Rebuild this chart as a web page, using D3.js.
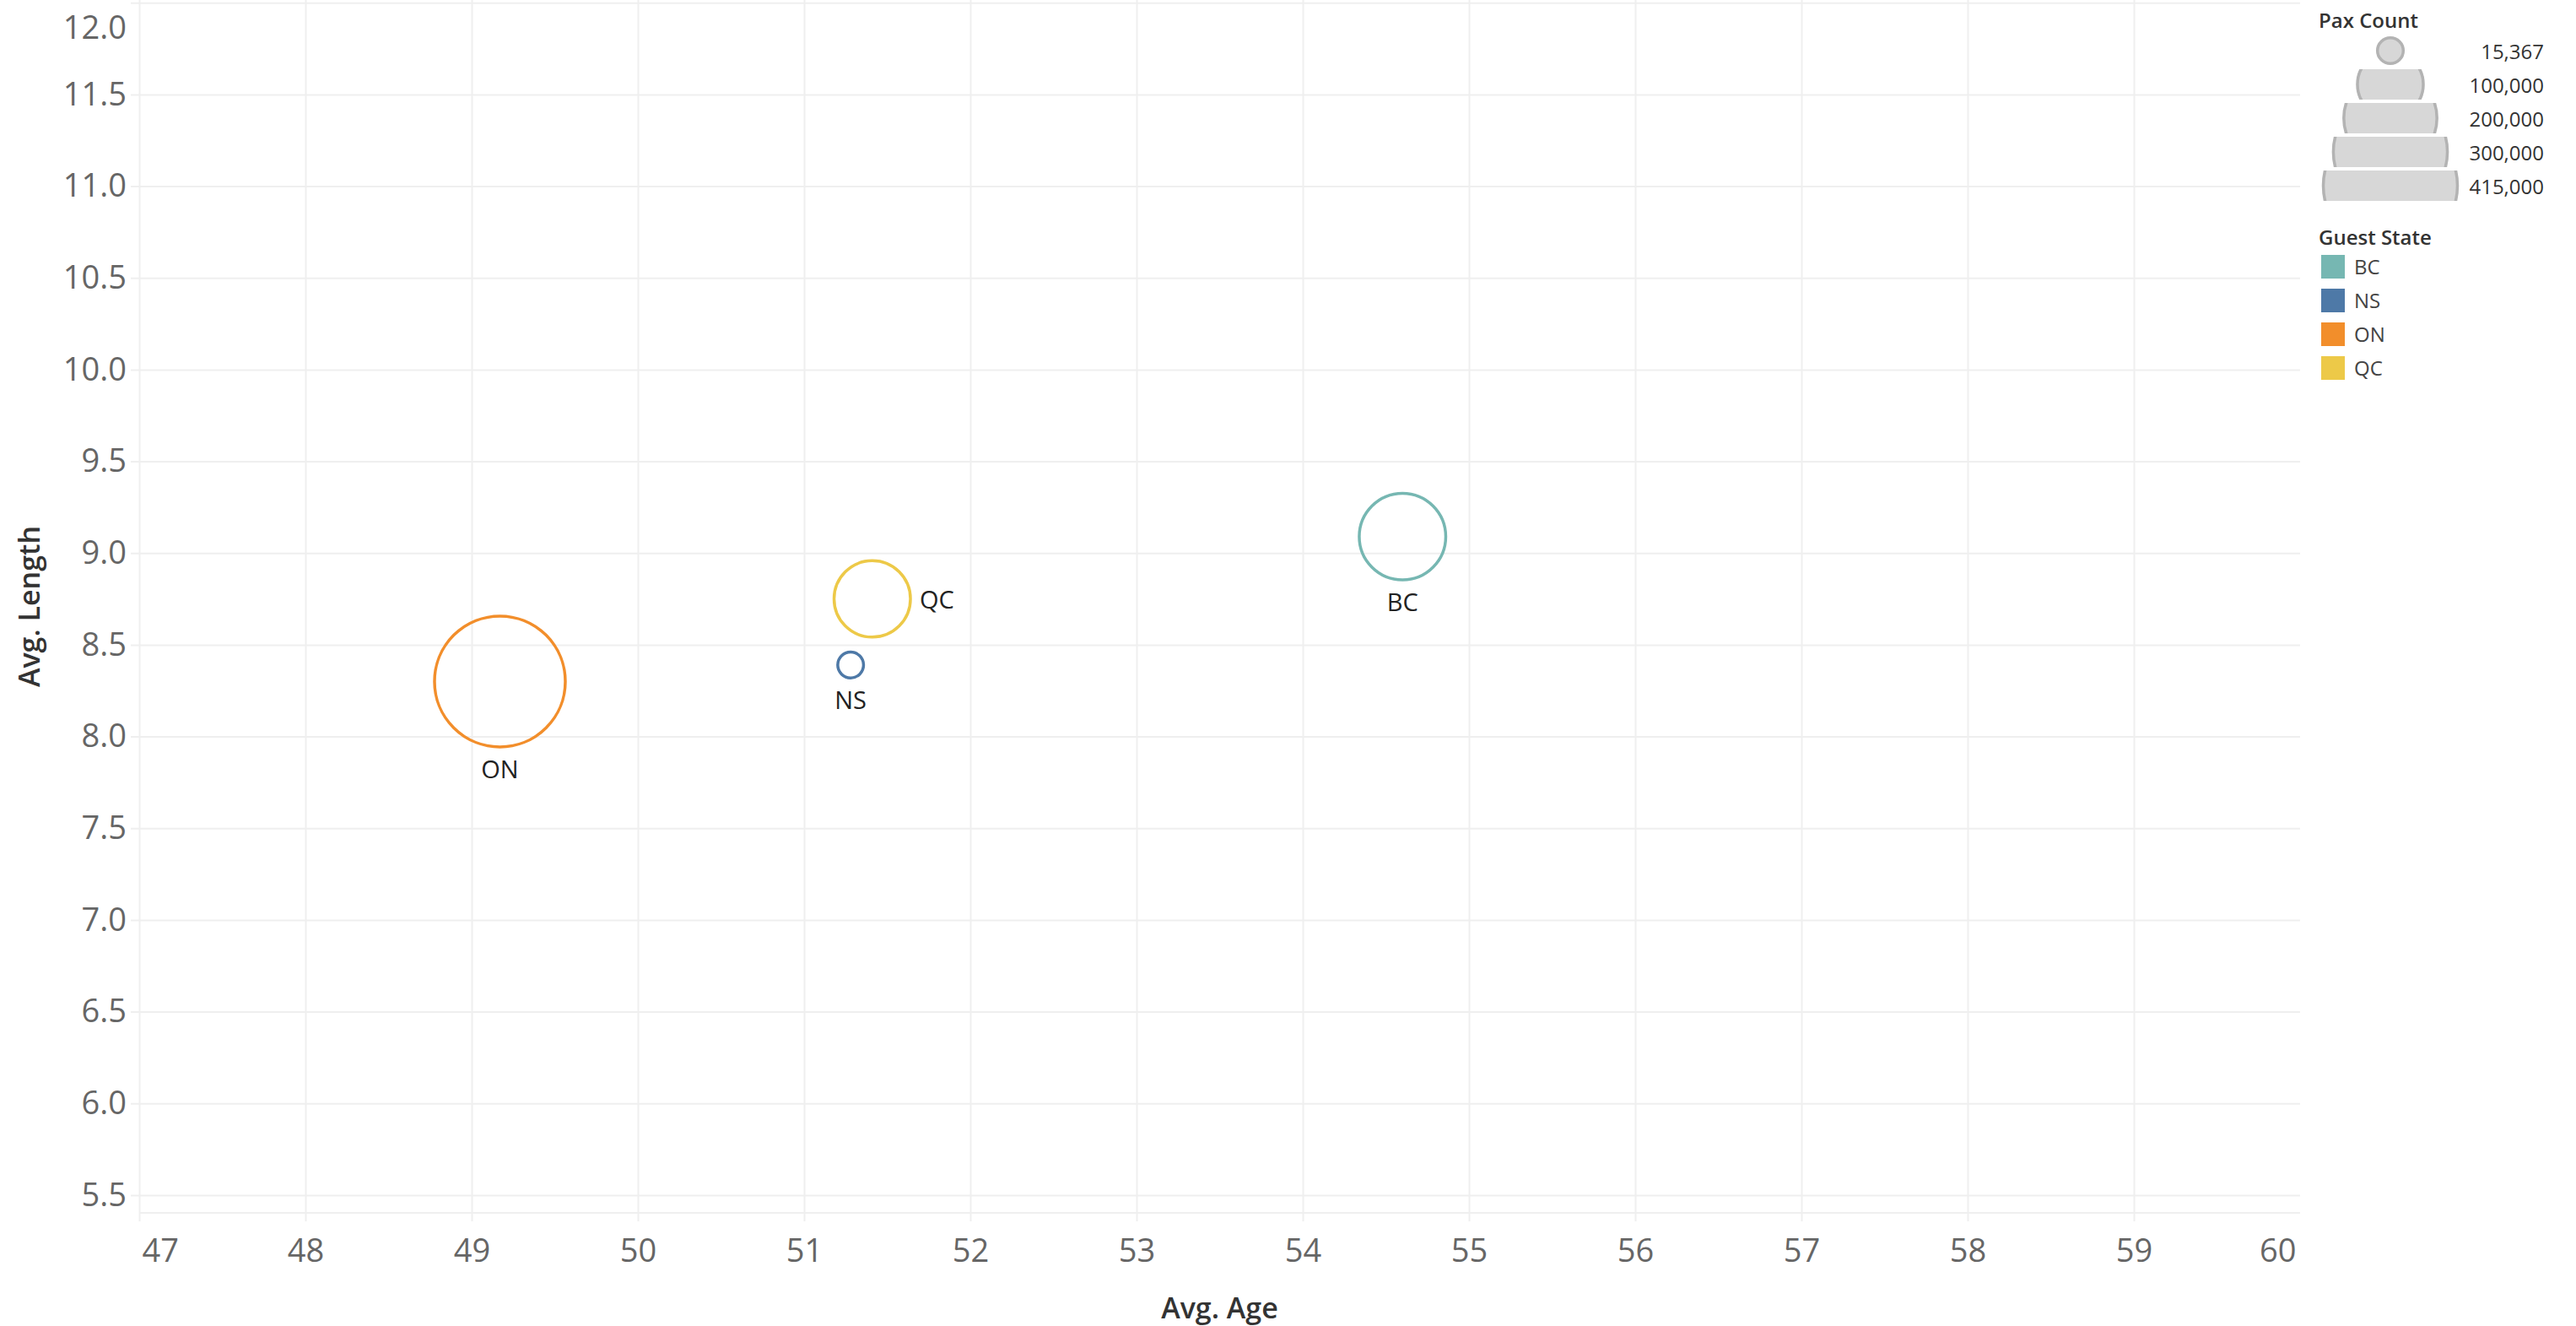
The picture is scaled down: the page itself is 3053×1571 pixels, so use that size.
<!DOCTYPE html>
<html>
<head>
<meta charset="utf-8">
<script src="https://cdn.jsdelivr.net/npm/d3@7"></script>
<style>
  html, body { margin: 0; padding: 0; background: #fff; }
  svg { display: block; font-family: "Open Sans", "Noto Sans", sans-serif; }
</style>
</head>
<body>
<div id="chart"></div>
<script>
// data
const states = ['BC', 'NS', 'ON', 'QC'];
const avgAge = [54.60, 51.28, 49.17, 51.41];
const avgLength = [9.09, 8.39, 8.30, 8.75];
const paxCount = [172500, 15367, 394400, 134500];
const stateColors = ['#76b7b2', '#4e79a7', '#f28e2b', '#edc948'];
const labelSide = { BC: 'below', NS: 'below', ON: 'below', QC: 'right' };

const sizeLegendValues = [15367, 100000, 200000, 300000, 415000];
const xTicks = [47, 48, 49, 50, 51, 52, 53, 54, 55, 56, 57, 58, 59, 60];
const yTicks = [5.5, 6.0, 6.5, 7.0, 7.5, 8.0, 8.5, 9.0, 9.5, 10.0, 10.5, 11.0, 11.5, 12.0];

const W = 3053, H = 1571;
const plot = { left: 165, right: 2726, top: 0, bottom: 1437 };
const gridColor = '#efefef';
const font = '"Open Sans", "Noto Sans", sans-serif';

const svg = d3.select('#chart').append('svg')
    .attr('width', W)
    .attr('height', H);

const x = d3.scaleLinear().domain([47, 60]).range([plot.left, plot.right]);
const y = d3.scaleLinear().domain([5.403, 12.015]).range([plot.bottom, plot.top]);
const r = d3.scaleSqrt().domain([0, 415000]).range([0, 79.5]);

// x axis: ticks double as vertical gridlines
const xAxis = svg.append('g')
    .attr('transform', `translate(0,${plot.bottom + 10})`)
    .call(d3.axisBottom(x)
        .tickValues(xTicks)
        .tickSize(-(plot.bottom + 10))
        .tickPadding(21)
        .tickFormat(d3.format('d')))
    .attr('font-family', font);
xAxis.select('.domain').remove();
xAxis.selectAll('line')
    .attr('stroke', gridColor)
    .attr('stroke-width', 2)
    .filter(d => d === 60).remove();
xAxis.selectAll('text')
    .attr('fill', '#666')
    .style('font-size', '38px')
    .attr('text-anchor', d => d === 47 ? 'start' : d === 60 ? 'end' : 'middle')
    .attr('x', d => d === 47 ? 3 : d === 60 ? -5 : 0);

// y axis: ticks double as horizontal gridlines
const yAxis = svg.append('g')
    .attr('transform', `translate(${plot.left - 10},0)`)
    .call(d3.axisLeft(y)
        .tickValues(yTicks)
        .tickSize(-(plot.right - plot.left + 10))
        .tickPadding(5)
        .tickFormat(d3.format('.1f')))
    .attr('font-family', font);
yAxis.select('.domain').remove();
yAxis.selectAll('line')
    .attr('stroke', gridColor)
    .attr('stroke-width', 2);
yAxis.selectAll('text')
    .attr('fill', '#666')
    .style('font-size', '38px')
    .filter(d => d === 12).attr('y', 30);

// axis lines
svg.append('line')
    .attr('x1', plot.left).attr('x2', plot.right)
    .attr('y1', plot.bottom).attr('y2', plot.bottom)
    .attr('stroke', gridColor).attr('stroke-width', 2);

// axis titles
svg.append('text')
    .attr('x', (plot.left + plot.right) / 2)
    .attr('y', 1562)
    .attr('text-anchor', 'middle')
    .attr('fill', '#333')
    .style('font-size', '34px')
    .style('font-weight', 600)
    .text('Avg. Age');

svg.append('text')
    .attr('transform', `translate(47,${(plot.top + plot.bottom) / 2}) rotate(-90)`)
    .attr('text-anchor', 'middle')
    .attr('fill', '#333')
    .style('font-size', '34px')
    .style('font-weight', 600)
    .text('Avg. Length');

// bubbles
const points = states.map((s, i) => ({
    state: s,
    age: avgAge[i],
    len: avgLength[i],
    pax: paxCount[i],
    color: stateColors[i]
}));

const marks = svg.append('g');
marks.selectAll('circle')
    .data(points)
    .join('circle')
    .attr('cx', d => x(d.age))
    .attr('cy', d => y(d.len))
    .attr('r', d => r(d.pax))
    .attr('fill', 'none')
    .attr('stroke', d => d.color)
    .attr('stroke-width', 3.5);

marks.selectAll('text')
    .data(points)
    .join('text')
    .attr('x', d => labelSide[d.state] === 'right' ? x(d.age) + r(d.pax) + 11 : x(d.age))
    .attr('y', d => labelSide[d.state] === 'right' ? y(d.len) : y(d.len) + r(d.pax) + 37)
    .attr('dy', d => labelSide[d.state] === 'right' ? '0.38em' : 0)
    .attr('text-anchor', d => labelSide[d.state] === 'right' ? 'start' : 'middle')
    .attr('fill', '#222')
    .style('font-size', '29px')
    .text(d => d.state);

// size legend
const legend = svg.append('g');
legend.append('text')
    .attr('x', 2748).attr('y', 33)
    .attr('fill', '#333')
    .style('font-size', '24px')
    .style('font-weight', 600)
    .text('Pax Count');

const defs = svg.append('defs');
sizeLegendValues.forEach((v, i) => {
    const cy = 60 + i * 40;
    defs.append('clipPath').attr('id', `row${i}`)
        .append('rect')
        .attr('x', 2700).attr('y', cy - 18)
        .attr('width', 300).attr('height', 36);
    legend.append('circle')
        .attr('cx', 2833).attr('cy', cy)
        .attr('r', r(v))
        .attr('fill', '#d7d7d7')
        .attr('stroke', '#b3b3b3')
        .attr('stroke-width', 3.5)
        .attr('clip-path', `url(#row${i})`);
    legend.append('text')
        .attr('x', 3015).attr('y', cy + 10)
        .attr('text-anchor', 'end')
        .attr('fill', '#333')
        .style('font-size', '24px')
        .text(d3.format(',')(v));
});

// colour legend
legend.append('text')
    .attr('x', 2748).attr('y', 290)
    .attr('fill', '#333')
    .style('font-size', '24px')
    .style('font-weight', 600)
    .text('Guest State');

states.forEach((s, i) => {
    const top = 302 + i * 40;
    legend.append('rect')
        .attr('x', 2751).attr('y', top)
        .attr('width', 28).attr('height', 28)
        .attr('fill', stateColors[i]);
    legend.append('text')
        .attr('x', 2790).attr('y', top + 14)
        .attr('dy', '0.36em')
        .attr('fill', '#444')
        .style('font-size', '24px')
        .text(s);
});
</script>
</body>
</html>
